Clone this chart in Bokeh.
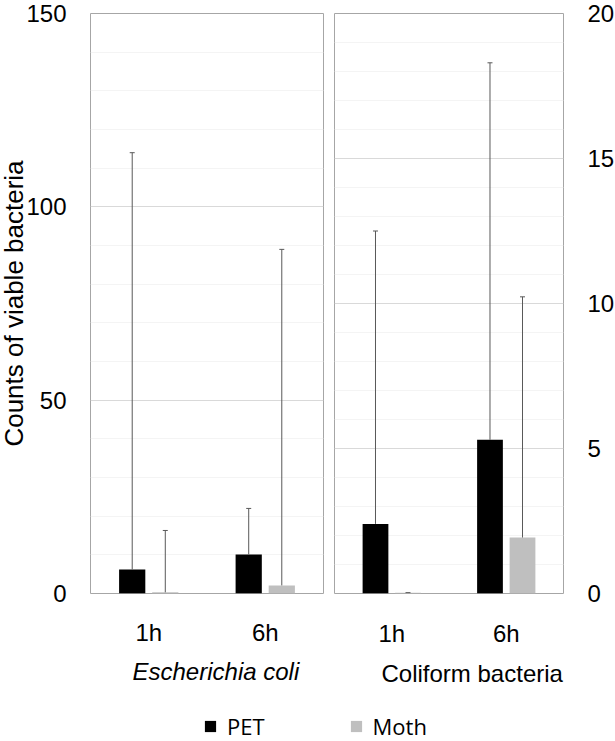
from bokeh.plotting import figure
from bokeh.models import (Range1d, FixedTicker, ColumnDataSource, Whisker, TeeHead,
                          Title, Legend, LegendItem)
from bokeh.layouts import column, row
from bokeh.embed import file_html
from bokeh.resources import INLINE

# ---- data ----
times = ["1h", "6h"]
series = ["PET", "Moth"]
series_colors = ["#000000", "#bfbfbf"]

ecoli_pet = [6.2, 10.1]
ecoli_pet_sd = [107.8, 11.9]
ecoli_moth = [0.3, 2.1]
ecoli_moth_sd = [16.0, 86.9]

coli_pet = [2.4, 5.3]
coli_pet_sd = [10.1, 13.0]
coli_moth = [0.03, 1.93]
coli_moth_sd = [0.0, 8.3]

ecoli_ticks = [0, 50, 100, 150]
ecoli_minor = [10, 20, 30, 40, 60, 70, 80, 90, 110, 120, 130, 140]
coli_ticks = [0, 5, 10, 15, 20]
coli_minor = [1, 2, 3, 4, 6, 7, 8, 9, 11, 12, 13, 14, 16, 17, 18, 19]

ecoli_title = "Escherichia coli"
coli_title = "Coliform bacteria"
y_title = "Counts of viable bacteria"

# ---- style ----
FONT = "Liberation Sans"
TICK_SIZE = "24px"
OFFSET = 0.142
BAR_W = 0.225
ERR_COLOR = "#595959"


def make_panel(pet, pet_sd, moth, moth_sd, ymax, ticks, minor, side,
               frame_w, mb_left, mb_right, mb_top, mb_bottom, tick_standoff_x):
    p = figure(frame_width=frame_w, frame_height=580,
               x_range=Range1d(0, len(times)), y_range=Range1d(0, ymax),
               y_axis_location=side, output_backend="svg", toolbar_location=None,
               min_border_left=mb_left, min_border_right=mb_right,
               min_border_top=mb_top, min_border_bottom=mb_bottom)
    p.outline_line_color = "#a6a6a6"
    p.outline_line_width = 1
    p.background_fill_color = "white"
    p.border_fill_color = "white"

    xs = [i + 0.5 for i in range(len(times))]
    for vals, sds, col, sign in [(pet, pet_sd, series_colors[0], -1),
                                 (moth, moth_sd, series_colors[1], 1)]:
        bx = [x + sign * OFFSET for x in xs]
        src = ColumnDataSource(dict(x=bx, top=vals,
                                    lower=vals,
                                    upper=[v + s for v, s in zip(vals, sds)]))
        p.vbar(x="x", top="top", width=BAR_W, source=src, fill_color=col,
               line_color=None)
        w = Whisker(base="x", lower="lower", upper="upper", source=src,
                    line_color=ERR_COLOR, line_width=1, lower_head=None,
                    upper_head=TeeHead(size=5, line_color=ERR_COLOR, line_width=1),
                    level="overlay")
        p.add_layout(w)

    p.xaxis.ticker = FixedTicker(ticks=xs)
    p.xaxis.major_label_overrides = {x: t for x, t in zip(xs, times)}
    yt = FixedTicker(ticks=ticks, minor_ticks=minor)
    p.yaxis.ticker = yt
    p.ygrid.ticker = yt
    p.xgrid.visible = False
    p.ygrid.grid_line_color = "#d9d9d9"
    p.ygrid.grid_line_width = 1
    p.ygrid.minor_grid_line_color = "#f4f4f4"
    p.ygrid.minor_grid_line_width = 1

    for ax in p.axis:
        ax.axis_line_color = None
        ax.major_tick_line_color = None
        ax.minor_tick_line_color = None
        ax.major_tick_out = 0
        ax.major_tick_in = 0
        ax.minor_tick_out = 0
        ax.minor_tick_in = 0
        ax.major_label_text_font = FONT
        ax.major_label_text_font_size = TICK_SIZE
        ax.major_label_text_color = "#000000"
    p.yaxis.major_label_standoff = 24
    p.xaxis.major_label_standoff = tick_standoff_x
    return p


p1 = make_panel(ecoli_pet, ecoli_pet_sd, ecoli_moth, ecoli_moth_sd, 150,
                ecoli_ticks, ecoli_minor, "left", 233, 90, 5, 13, 108, 25)
p2 = make_panel(coli_pet, coli_pet_sd, coli_moth, coli_moth_sd, 20,
                coli_ticks, coli_minor, "right", 229, 6, 0, 10, 111, 26)

# panel titles below the categories, y title at the far left
p1.add_layout(Title(text=ecoli_title, text_font=FONT, text_font_size="24px",
                    text_font_style="italic", align="left", offset=42,
                    standoff=15, text_color="#000000"), "below")
p1.add_layout(Title(text=y_title, text_font=FONT, text_font_size="26px",
                    text_font_style="normal", align="center",
                    standoff=-11, text_color="#000000"), "left")
p2.add_layout(Title(text=coli_title, text_font=FONT, text_font_size="24px",
                    text_font_style="normal", align="left", offset=47,
                    standoff=16, text_color="#000000"), "below")

# legend strip
p3 = figure(width=613, height=40, x_range=Range1d(0, 1), y_range=Range1d(0, 1),
            x_axis_location=None, y_axis_location=None, output_backend="svg",
            toolbar_location=None, min_border=0)
p3.outline_line_color = None
p3.xgrid.visible = False
p3.ygrid.visible = False
items = []
for name, col in zip(series, series_colors):
    r = p3.vbar(x=[-5], top=[0], width=0.1, fill_color=col, line_color=None)
    items.append(LegendItem(label=name, renderers=[r]))
leg = Legend(items=items, orientation="horizontal", location=(203, 0),
             padding=0, margin=0, border_line_color=None,
             background_fill_alpha=0, glyph_width=14, glyph_height=14,
             label_standoff=10, spacing=84, label_text_font="Open Sans",
             label_text_font_size="22px", label_text_color="#000000",
             label_height=14)
p3.add_layout(leg)

layout = column(row(p1, p2), p3)
open("out.html", "w").write(file_html(layout, INLINE))
